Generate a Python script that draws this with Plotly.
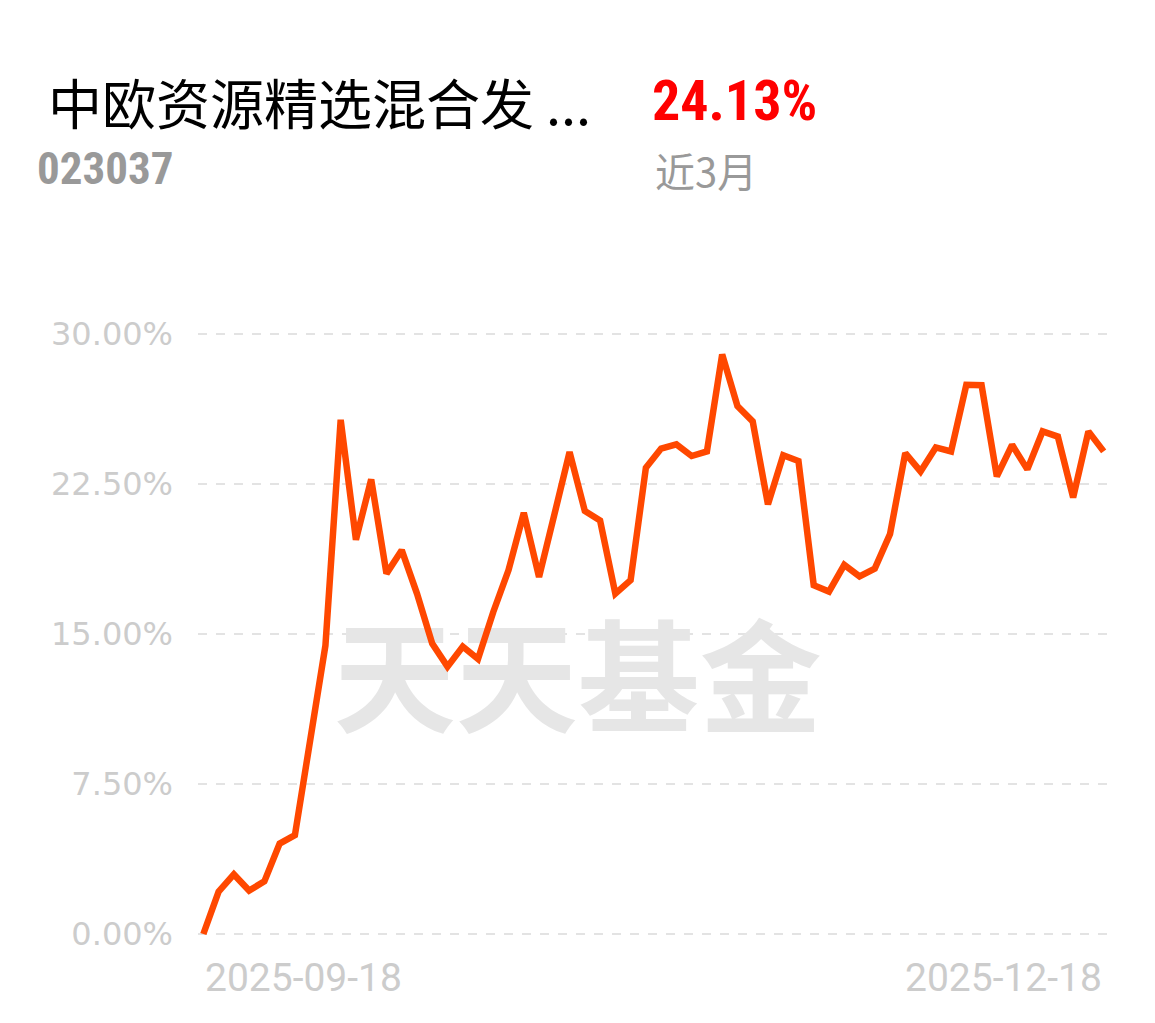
import plotly.graph_objects as go

# ---------------- data ----------------
dates = [
    "2025-09-18", "2025-09-19", "2025-09-22", "2025-09-23", "2025-09-24", "2025-09-25",
    "2025-09-26", "2025-09-29", "2025-09-30", "2025-10-09", "2025-10-10", "2025-10-13",
    "2025-10-14", "2025-10-15", "2025-10-16", "2025-10-17", "2025-10-20", "2025-10-21",
    "2025-10-22", "2025-10-23", "2025-10-24", "2025-10-27", "2025-10-28", "2025-10-29",
    "2025-10-30", "2025-10-31", "2025-11-03", "2025-11-04", "2025-11-05", "2025-11-06",
    "2025-11-07", "2025-11-10", "2025-11-11", "2025-11-12", "2025-11-13", "2025-11-14",
    "2025-11-17", "2025-11-18", "2025-11-19", "2025-11-20", "2025-11-21", "2025-11-24",
    "2025-11-25", "2025-11-26", "2025-11-27", "2025-11-28", "2025-12-01", "2025-12-02",
    "2025-12-03", "2025-12-04", "2025-12-05", "2025-12-08", "2025-12-09", "2025-12-10",
    "2025-12-11", "2025-12-12", "2025-12-15", "2025-12-16", "2025-12-17", "2025-12-18",
]
returns_pct = [
    0.00, 2.12, 2.98, 2.17, 2.63, 4.52, 4.94, 9.80, 14.42, 25.71,
    19.71, 22.73, 18.02, 19.19, 17.02, 14.52, 13.37, 14.37, 13.75, 16.10,
    18.20, 21.06, 17.85, 20.96, 24.10, 21.15, 20.67, 17.02, 17.69, 23.31,
    24.27, 24.48, 23.90, 24.13, 28.98, 26.40, 25.63, 21.48, 23.94, 23.65,
    17.44, 17.12, 18.46, 17.88, 18.27, 20.00, 24.04, 23.13, 24.33, 24.13,
    27.46, 27.44, 22.88, 24.46, 23.23, 25.13, 24.87, 21.83, 25.13, 24.13,
]
y_ticks = [0, 7.5, 15, 22.5, 30]
y_tick_labels = ["0.00%", "7.50%", "15.00%", "22.50%", "30.00%"]
x_tick_labels = [dates[0], dates[-1]]

fund_name = "中欧资源精选混合发 ..."
fund_code = "023037"
period_return = "24.13%"
period_label = "近3月"
watermark = "天天基金"

# ---------------- layout geometry ----------------
OFF = 8  # page body margin
W, H = 1155 - OFF, 1023 - OFF
ML, MR, MT, MB = 198 - OFF, 46, 314 - OFF, 69
PW, PH = W - ML - MR, H - MT - MB

def px(xp):
    return (xp - OFF - ML) / PW

def py(yp):
    return (H - MB - (yp - OFF)) / PH

idx = list(range(len(dates)))
n = len(dates)

fig = go.Figure()

# watermark (drawn below the line)
fig.add_trace(go.Scatter(
    x=[(n - 1) * 0.416], y=[12.1], mode="text", text=[watermark],
    textfont=dict(family="Noto Sans CJK SC", size=122, color="#e6e6e6", weight="bold"),
    hoverinfo="skip", showlegend=False,
))

fig.add_trace(go.Scatter(
    x=idx, y=returns_pct, mode="lines",
    line=dict(color="#ff4800", width=6.5, shape="linear"),
    customdata=dates,
    hovertemplate="%{customdata}<br>%{y:.2f}%<extra></extra>",
    showlegend=False,
))

fig.update_layout(
    width=W, height=H,
    margin=dict(l=ML, r=MR, t=MT, b=MB),
    paper_bgcolor="white", plot_bgcolor="white",
    xaxis=dict(range=[-0.35, n - 1 + 0.35], showgrid=False, zeroline=False,
               showticklabels=False, showline=False, fixedrange=True),
    yaxis=dict(range=[-1, 31], tickvals=y_ticks, ticktext=y_tick_labels,
               showgrid=True, gridcolor="#e3e3e3", gridwidth=2, griddash="dash",
               zeroline=False, showline=False, ticks="",
               ticklabelstandoff=24,
               tickfont=dict(family="DejaVu Sans", size=32, color="#cccccc")),
    font=dict(family="Noto Sans CJK SC"),
)

ann = []
ann.append(dict(text=fund_name, x=px(46), y=py(101), xref="paper", yref="paper",
                xanchor="left", yanchor="middle", showarrow=False,
                font=dict(family="Noto Sans CJK SC", size=54, color="#000000")))
ann.append(dict(text=fund_code, x=px(35), y=py(168), xref="paper", yref="paper",
                xanchor="left", yanchor="middle", showarrow=False,
                font=dict(family="Liberation Sans Narrow, Roboto Condensed, Roboto", size=45,
                          color="#999999", weight="bold")))
ann.append(dict(text=period_return, x=px(650), y=py(101), xref="paper", yref="paper",
                xanchor="left", yanchor="middle", showarrow=False,
                font=dict(family="Liberation Sans Narrow, Roboto Condensed, Roboto", size=56,
                          color="#ff0000", weight="bold")))
ann.append(dict(text=period_label, x=px(653), y=py(170), xref="paper", yref="paper",
                xanchor="left", yanchor="middle", showarrow=False,
                font=dict(family="Noto Sans CJK SC", size=40, color="#999999")))
# x-axis end labels
ann.append(dict(text=x_tick_labels[0], x=0, y=py(978), xref="x", yref="paper",
                xanchor="left", yanchor="middle", showarrow=False,
                font=dict(family="Roboto", size=39, color="#cccccc")))
ann.append(dict(text=x_tick_labels[1], x=n - 1, y=py(978), xref="x", yref="paper",
                xanchor="right", yanchor="middle", showarrow=False,
                font=dict(family="Roboto", size=39, color="#cccccc")))
fig.update_layout(annotations=ann)

fig.write_html("out.html")
